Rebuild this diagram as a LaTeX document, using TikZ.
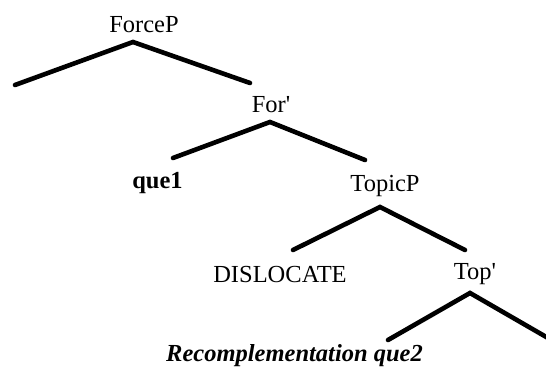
\documentclass[tikz,border=0pt]{standalone}
\usepackage{fontspec}
\setmainfont{Liberation Serif}
\begin{document}
\begin{tikzpicture}[x=1pt,y=-1pt,
  lbl/.style={anchor=base,inner sep=0pt,font=\fontsize{24.5}{29}\selectfont},
  branch/.style={line width=4.6pt,line cap=round,line join=miter}]
\useasboundingbox (0,0) rectangle (546,369);
% labels
\node[lbl] (forcep) at (144,33) {ForceP};
\node[lbl] (forbar) at (271,112) {For\textquotesingle};
\node[lbl] (que1) at (157.5,188) {\bfseries que1};
\node[lbl] (topicp) at (385,191) {TopicP};
\node[lbl] (disloc) at (280,282) {DISLOCATE};
\node[lbl] (topbar) at (475,279) {Top\textquotesingle};
\node[lbl] (recomp) at (294.5,361) {\bfseries\itshape Recomplementation que2};
% branch points
\coordinate (a1) at (133,42);
\coordinate (l1) at (15,85);
\coordinate (r1) at (250,83);
\coordinate (a2) at (270,122);
\coordinate (l2) at (173,158);
\coordinate (r2) at (365,160);
\coordinate (a3) at (380,207);
\coordinate (l3) at (293,250);
\coordinate (r3) at (465,250);
\coordinate (a4) at (470,293);
\coordinate (l4) at (388,340);
\coordinate (r4) at (548,338);
\draw[branch] (l1) -- (a1) -- (r1);
\draw[branch] (l2) -- (a2) -- (r2);
\draw[branch] (l3) -- (a3) -- (r3);
\draw[branch] (l4) -- (a4) -- (r4);
\end{tikzpicture}
\end{document}
